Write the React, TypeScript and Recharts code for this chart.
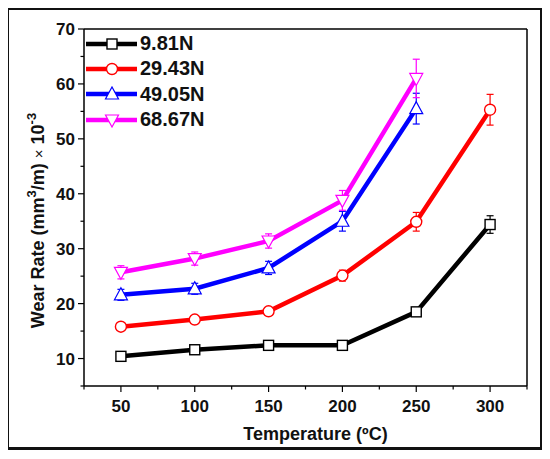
import React from 'react';
import { LineChart, Line, XAxis, YAxis, ErrorBar, Legend, ReferenceLine, Label } from 'recharts';

const temps = [50, 100, 150, 200, 250, 300];

const seriesNames = ['9.81N', '29.43N', '49.05N', '68.67N'];
const seriesColors = ['#000000', '#ff0000', '#0000ff', '#ff00ff'];
const seriesShapes = ['square', 'circle', 'triangleUp', 'triangleDown'];

const wear981 = [10.4, 11.6, 12.4, 12.4, 18.5, 34.4];
const err981 = [0.8, 0.8, 0.7, 0.7, 0.6, 1.6];
const wear2943 = [15.8, 17.1, 18.6, 25.1, 34.9, 55.3];
const err2943 = [0.5, 0.5, 0.5, 1.0, 1.7, 2.8];
const wear4905 = [21.6, 22.7, 26.5, 35.0, 55.5];
const err4905 = [1.0, 1.0, 1.2, 1.8, 2.8];
const wear6867 = [25.7, 28.2, 31.4, 38.8, 61.0];
const err6867 = [1.2, 1.2, 1.3, 1.8, 3.5];

const xTicks = [25, 50, 75, 100, 125, 150, 175, 200, 225, 250, 275, 300, 325];
const xMajor = [50, 100, 150, 200, 250, 300];
const yTicks = [5, 10, 15, 20, 25, 30, 35, 40, 45, 50, 55, 60, 65, 70];
const yMajor = [10, 20, 30, 40, 50, 60, 70];

const data = temps.map((t, i) => ({
  t,
  s0: wear981[i],
  e0: err981[i],
  s1: wear2943[i],
  e1: err2943[i],
  s2: wear4905[i],
  e2: err4905[i],
  s3: wear6867[i],
  e3: err6867[i],
}));

const font = 'Arial, "Liberation Sans", sans-serif';

const Marker = ({ shape, color, cx, cy }: { shape: string; color: string; cx: number; cy: number }) => {
  if (shape === 'square') {
    return <rect x={cx - 5} y={cy - 5} width={10} height={10} fill="#fff" stroke={color} strokeWidth={1.4} />;
  }
  if (shape === 'circle') {
    return <circle cx={cx} cy={cy} r={5.5} fill="#fff" stroke={color} strokeWidth={1.4} />;
  }
  if (shape === 'triangleUp') {
    return (
      <polygon
        points={`${cx},${cy - 7} ${cx - 6.5},${cy + 5} ${cx + 6.5},${cy + 5}`}
        fill="#fff"
        stroke={color}
        strokeWidth={1.2}
      />
    );
  }
  return (
    <polygon
      points={`${cx},${cy + 7} ${cx - 6.5},${cy - 5} ${cx + 6.5},${cy - 5}`}
      fill="#fff"
      stroke={color}
      strokeWidth={1.2}
    />
  );
};

const makeDot = (idx: number) => (props: any) => {
  const { cx, cy, index } = props;
  if (cx == null || cy == null || isNaN(cy)) return <g key={`d${idx}-${index}`} />;
  return (
    <g key={`d${idx}-${index}`}>
      <Marker shape={seriesShapes[idx]} color={seriesColors[idx]} cx={cx} cy={cy} />
    </g>
  );
};

const XTick = (props: any) => {
  const { x, y, payload } = props;
  const major = xMajor.includes(payload.value);
  return (
    <g>
      <line x1={x} x2={x} y1={y} y2={y + (major ? 6 : 3.5)} stroke="#000" strokeWidth={1.2} />
      {major && (
        <text x={x} y={y + 26} textAnchor="middle" fontFamily={font} fontWeight="bold" fontSize={17} fill="#111">
          {payload.value}
        </text>
      )}
    </g>
  );
};

const YTick = (props: any) => {
  const { x, y, payload } = props;
  const major = yMajor.includes(payload.value);
  return (
    <g>
      <line x1={x} x2={x - (major ? 6 : 3.5)} y1={y} y2={y} stroke="#000" strokeWidth={1.2} />
      {major && (
        <text x={x - 9} y={y + 6} textAnchor="end" fontFamily={font} fontWeight="bold" fontSize={17} fill="#111">
          {payload.value}
        </text>
      )}
    </g>
  );
};

const YLabel = (props: any) => {
  const { viewBox } = props;
  const cx = viewBox.x + 4;
  const cy = viewBox.y + viewBox.height / 2 + 13;
  return (
    <text
      x={cx}
      y={cy}
      transform={`rotate(-90, ${cx}, ${cy})`}
      textAnchor="middle"
      dominantBaseline="central"
      fontFamily={font}
      fontWeight="bold"
      fontSize={18}
      fill="#111"
    >
      <tspan>Wear Rate (mm</tspan>
      <tspan dy={-7} fontSize={13}>3</tspan>
      <tspan dy={7}>/m) </tspan>
      <tspan fontWeight="normal" fontSize={15}>×</tspan>
      <tspan> 10</tspan>
      <tspan dy={-7} fontSize={13}>-3</tspan>
    </text>
  );
};

const XLabel = (props: any) => {
  const { viewBox } = props;
  return (
    <text
      x={viewBox.x + viewBox.width / 2 + 10}
      y={viewBox.y + 54}
      textAnchor="middle"
      fontFamily={font}
      fontWeight="bold"
      fontSize={18}
      fill="#111"
    >
      Temperature (ºC)
    </text>
  );
};

const LegendBox = () => (
  <div style={{ fontFamily: font }}>
    {seriesNames.map((name, i) => (
      <div key={name} style={{ display: 'flex', alignItems: 'center', height: 25.3 }}>
        <svg width={52} height={16}>
          <line x1={0} x2={51} y1={8} y2={8} stroke={seriesColors[i]} strokeWidth={4.5} />
          <Marker shape={seriesShapes[i]} color={seriesColors[i]} cx={26} cy={8} />
        </svg>
        <span style={{ fontWeight: 'bold', fontSize: 20, color: '#111', marginLeft: 2 }}>{name}</span>
      </div>
    ))}
  </div>
);

export default function App() {
  return (
    <div style={{ position: 'relative', width: 550, height: 459, margin: -8, background: '#fff' }}>
      <div
        style={{
          position: 'absolute',
          left: 6,
          top: 7,
          width: 537,
          height: 443,
          border: '3px solid #111',
          boxSizing: 'border-box',
        }}
      />
      <div style={{ position: 'absolute', left: 0, top: 0 }}>
        <LineChart width={550} height={459} data={data} margin={{ top: 29, right: 23, bottom: 33, left: 34 }}>
          <XAxis
            dataKey="t"
            type="number"
            domain={[25, 325]}
            ticks={xTicks}
            interval={0}
            tickSize={0}
            tickMargin={0}
            tickLine={false}
            tick={XTick}
            height={40}
            axisLine={{ stroke: '#000', strokeWidth: 1.5 }}
          >
            <Label content={XLabel} />
          </XAxis>
          <YAxis
            type="number"
            domain={[5, 70]}
            ticks={yTicks}
            interval={0}
            tickSize={0}
            tickMargin={0}
            tickLine={false}
            tick={YTick}
            width={50}
            axisLine={{ stroke: '#000', strokeWidth: 1.5 }}
          >
            <Label content={YLabel} />
          </YAxis>
          <ReferenceLine y={70} stroke="#000" strokeWidth={1.5} />
          <ReferenceLine x={325} stroke="#000" strokeWidth={1.5} />
          {seriesNames.map((name, i) => (
            <Line
              key={name}
              dataKey={`s${i}`}
              name={name}
              stroke={seriesColors[i]}
              strokeWidth={4.5}
              dot={makeDot(i)}
              activeDot={false}
              isAnimationActive={false}
            />
          ))}
          {seriesNames.map((name, i) => (
            <Line
              key={`${name}-err`}
              dataKey={`s${i}`}
              stroke="none"
              dot={false}
              activeDot={false}
              legendType="none"
              isAnimationActive={false}
            >
              <ErrorBar dataKey={`e${i}`} width={3.5} stroke={seriesColors[i]} strokeWidth={1.2} />
            </Line>
          ))}
          <Legend
            layout="vertical"
            align="center"
            verticalAlign="middle"
            content={LegendBox}
            wrapperStyle={{ position: 'absolute', left: 86, top: 31, width: 'auto' }}
          />
        </LineChart>
      </div>
    </div>
  );
}
